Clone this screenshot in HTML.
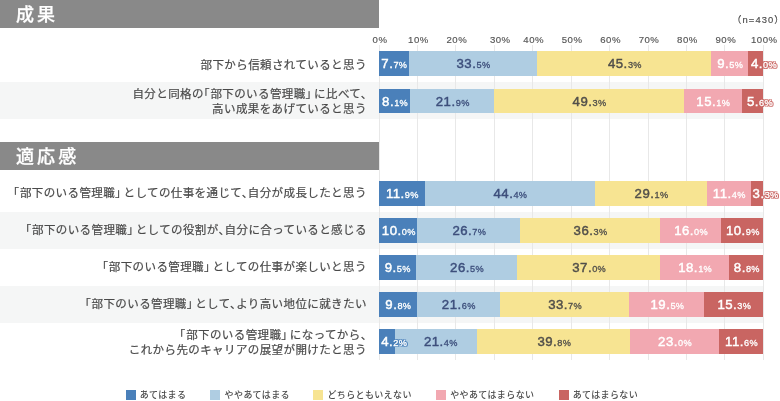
<!DOCTYPE html>
<html lang="ja"><head><meta charset="utf-8"><title>chart</title>
<style>
html,body{margin:0;padding:0;background:#fff}
body{width:780px;height:401px;position:relative;overflow:hidden;font-family:"Liberation Sans","Noto Sans CJK JP",sans-serif;color:#4a4a4a}
.h{position:absolute;left:0;width:379px;height:27.6px;background:#898989;color:#fff;font-size:18px;font-weight:500;letter-spacing:3.1px;line-height:26.4px;padding-left:16px;box-sizing:border-box;-webkit-text-stroke:.25px #fff;font-family:"Noto Sans CJK JP",sans-serif}
.bg{position:absolute;left:0;width:763px;background:#f5f6f6}
.g{position:absolute;top:45px;width:1px;height:315px;background:#e8e8e8}
.ax{position:absolute;top:32.8px;width:40px;margin-left:-19px;text-align:center;font-size:9.6px;letter-spacing:.5px;color:#555;-webkit-text-stroke:.15px #555;line-height:13px}
.n{position:absolute;right:-4.8px;top:12.9px;-webkit-text-stroke:.15px #4a4a4a;font-size:9.4px;letter-spacing:1.1px;color:#4a4a4a;line-height:13px}
.bar{position:absolute;left:379px;width:384.3px;height:24.5px;display:flex}
.bar div{height:100%;position:relative;white-space:nowrap;text-align:center;font-weight:normal;font-size:13.2px;line-height:26.2px;letter-spacing:.5px;color:#fff;box-sizing:border-box}
.bar div span{font-size:9.2px;letter-spacing:.3px;margin-left:.1px;-webkit-text-stroke-width:.3px}
.bar div b{font-weight:normal;position:relative;left:.5px;z-index:1;-webkit-text-stroke:.45px currentColor;display:block;margin:0 -20px}
.a{background:#4a80ba}.b{background:#afcde2}.c{background:#f7e492}.d{background:#f2a8b1}.e{background:#c96562}
.bar .a b{text-shadow:-1px -1px 0 #4a80ba,-1px 0px 0 #4a80ba,-1px 1px 0 #4a80ba,0px -1px 0 #4a80ba,0px 1px 0 #4a80ba,1px -1px 0 #4a80ba,1px 0px 0 #4a80ba,1px 1px 0 #4a80ba}.bar .e b{text-shadow:-1px -1px 0 #c96562,-1px 0px 0 #c96562,-1px 1px 0 #c96562,0px -1px 0 #c96562,0px 1px 0 #c96562,1px -1px 0 #c96562,1px 0px 0 #c96562,1px 1px 0 #c96562}
.bar .b{color:#3d4f7c}.bar .c{color:#514f4a}
.bar .o b{text-align:left;margin:0 -30px 0 3px}
.lab{position:absolute;right:413.2px;text-align:right;font-size:11.5px;letter-spacing:.4px;line-height:14.4px;-webkit-text-stroke:.2px #4a4a4a;white-space:nowrap;font-family:"Noto Sans CJK JP",sans-serif;color:#4a4a4a}
.lab i{font-style:normal}
.lab i.l{margin-left:-.5em;margin-right:.4px}
.lab i.r{margin-right:-.5em}
.lab i.q{margin-right:-.3em}
.lg{position:absolute;top:389.5px;height:10px;font-size:9px;font-weight:500;letter-spacing:.4px;line-height:10px;white-space:nowrap;font-family:"Noto Sans CJK JP",sans-serif;color:#4a4a4a;padding-left:14.2px}
.lg span{position:absolute;left:0;top:0;width:10px;height:10px}
</style></head><body>
<div class="h" style="top:0">成果</div>
<div class="h" style="top:142.3px">適応感</div>
<div class="bg" style="top:82.4px;height:36.6px"></div>
<div class="bg" style="top:211.6px;height:37.4px"></div>
<div class="bg" style="top:286.0px;height:37.2px"></div>
<div class="g" style="left:378.50px"></div><div class="g" style="left:416.93px"></div><div class="g" style="left:455.36px"></div><div class="g" style="left:493.79px"></div><div class="g" style="left:532.22px"></div><div class="g" style="left:570.65px"></div><div class="g" style="left:609.08px"></div><div class="g" style="left:647.51px"></div><div class="g" style="left:685.94px"></div><div class="g" style="left:724.37px"></div><div class="g" style="left:762.80px"></div>
<div class="ax" style="left:379.00px">0%</div><div class="ax" style="left:417.43px">10%</div><div class="ax" style="left:455.86px">20%</div><div class="ax" style="left:499.29px">30%</div><div class="ax" style="left:532.72px">40%</div><div class="ax" style="left:571.15px">50%</div><div class="ax" style="left:609.58px">60%</div><div class="ax" style="left:648.01px">70%</div><div class="ax" style="left:686.44px">80%</div><div class="ax" style="left:724.87px">90%</div><div class="ax" style="left:763.30px">100%</div>
<div class="n">（n=430）</div>
<div class="bar" style="top:51.4px"><div class="a" style="width:7.700%"><b>7.<span>7%</span></b></div><div class="b" style="width:33.500%"><b>33.<span>5%</span></b></div><div class="c" style="width:45.300%"><b>45.<span>3%</span></b></div><div class="d" style="width:9.500%"><b>9.<span>5%</span></b></div><div class="e o" style="width:4.000%"><b style="margin-left:2.5px">4.<span>0%</span></b></div></div>
<div class="lab" style="top:56.7px">部下から信頼されていると思う</div>
<div class="bar" style="top:88.5px"><div class="a" style="width:8.100%"><b>8.<span>1%</span></b></div><div class="b" style="width:21.900%"><b>21.<span>9%</span></b></div><div class="c" style="width:49.300%"><b>49.<span>3%</span></b></div><div class="d" style="width:15.100%"><b>15.<span>1%</span></b></div><div class="e o" style="width:5.600%"><b style="margin-left:4.7px">5.<span>6%</span></b></div></div>
<div class="lab" style="top:86.2px">自分と同格の<i class="l">「</i>部下のいる管理職<i class="q">」</i>に比べて<i class="r">、</i><br>高い成果をあげていると思う</div>
<div class="bar" style="top:181.1px"><div class="a" style="width:11.888%"><b>11.<span>9%</span></b></div><div class="b" style="width:44.356%"><b>44.<span>4%</span></b></div><div class="c" style="width:29.071%"><b>29.<span>1%</span></b></div><div class="d" style="width:11.389%"><b>11.<span>4%</span></b></div><div class="e o" style="width:3.297%"><b style="margin-left:1.5px">3.<span>3%</span></b></div></div>
<div class="lab" style="top:185.0px"><i class="l">「</i>部下のいる管理職<i class="q">」</i>としての仕事を通じて<i class="r">、</i>自分が成長したと思う</div>
<div class="bar" style="top:218.4px"><div class="a" style="width:10.010%"><b>10.<span>0%</span></b></div><div class="b" style="width:26.727%"><b>26.<span>7%</span></b></div><div class="c" style="width:36.336%"><b>36.<span>3%</span></b></div><div class="d" style="width:16.016%"><b>16.<span>0%</span></b></div><div class="e" style="width:10.911%"><b>10.<span>9%</span></b></div></div>
<div class="lab" style="top:222.3px"><i class="l">「</i>部下のいる管理職<i class="q">」</i>としての役割が<i class="r">、</i>自分に合っていると感じる</div>
<div class="bar" style="top:255.3px"><div class="a" style="width:9.510%"><b>9.<span>5%</span></b></div><div class="b" style="width:26.527%"><b>26.<span>5%</span></b></div><div class="c" style="width:37.037%"><b>37.<span>0%</span></b></div><div class="d" style="width:18.118%"><b>18.<span>1%</span></b></div><div class="e" style="width:8.809%"><b>8.<span>8%</span></b></div></div>
<div class="lab" style="top:259.2px"><i class="l">「</i>部下のいる管理職<i class="q">」</i>としての仕事が楽しいと思う</div>
<div class="bar" style="top:292.2px"><div class="a" style="width:9.810%"><b>9.<span>8%</span></b></div><div class="b" style="width:21.622%"><b>21.<span>6%</span></b></div><div class="c" style="width:33.734%"><b>33.<span>7%</span></b></div><div class="d" style="width:19.520%"><b>19.<span>5%</span></b></div><div class="e" style="width:15.315%"><b>15.<span>3%</span></b></div></div>
<div class="lab" style="top:296.1px"><i class="l">「</i>部下のいる管理職<i class="q">」</i>として<i class="r">、</i>より高い地位に就きたい</div>
<div class="bar" style="top:329.2px"><div class="a o" style="width:4.200%"><b style="margin-left:1.7px">4.<span>2%</span></b></div><div class="b" style="width:21.400%"><b style="left:4.6px">21.<span>4%</span></b></div><div class="c" style="width:39.800%"><b>39.<span>8%</span></b></div><div class="d" style="width:23.000%"><b>23.<span>0%</span></b></div><div class="e" style="width:11.600%"><b>11.<span>6%</span></b></div></div>
<div class="lab" style="top:327.4px"><i class="l">「</i>部下のいる管理職<i class="q">」</i>になってから<i class="r">、</i><br>これから先のキャリアの展望が開けたと思う</div>
<div class="lg" style="left:125.5px"><span class="a"></span>あてはまる</div>
<div class="lg" style="left:210.4px"><span class="b"></span>ややあてはまる</div>
<div class="lg" style="left:313.2px"><span class="c"></span>どちらともいえない</div>
<div class="lg" style="left:436.0px"><span class="d"></span>ややあてはまらない</div>
<div class="lg" style="left:558.5px"><span class="e"></span>あてはまらない</div>
</body></html>
